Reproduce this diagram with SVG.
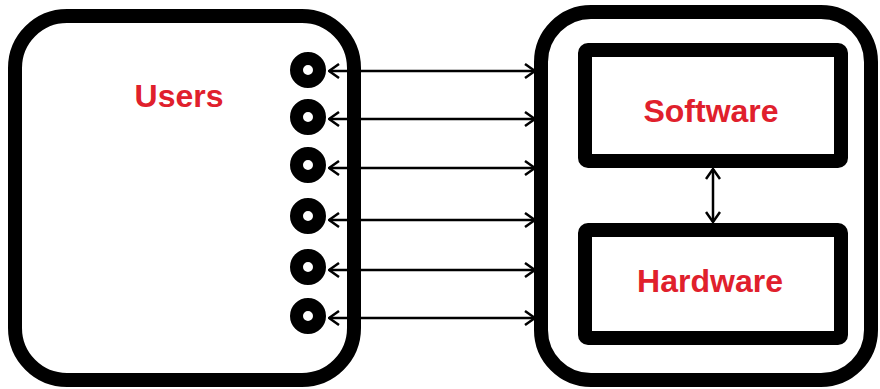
<svg xmlns="http://www.w3.org/2000/svg" width="880" height="389" viewBox="0 0 880 389">
<style>
.box{fill:#fff;stroke:#000;stroke-width:14}
.inner{fill:#fff;stroke:#000;stroke-width:14}
.port{fill:#fff;stroke:#000;stroke-width:13}
.lbl{font-family:"Liberation Sans",Arial,sans-serif;font-weight:bold;font-size:32px;fill:#e0202c;text-anchor:middle}
.conn{stroke:#000;stroke-width:2.5;fill:none;marker-start:url(#ah);marker-end:url(#ah)}
</style>
<defs>
<marker id="ah" viewBox="0 0 12 16" refX="11" refY="8" markerWidth="12" markerHeight="16" markerUnits="userSpaceOnUse" orient="auto-start-reverse">
<path d="M1,1 L11,8 L1,15" fill="none" stroke="#000" stroke-width="2.5"/>
</marker>
</defs>
<g id="users">
<rect class="box" x="15" y="16" width="339" height="364" rx="52"/>
<text class="lbl" x="179" y="107">Users</text>
<g id="ports">
<circle class="port" cx="308" cy="70" r="11.5"/>
<circle class="port" cx="308" cy="117" r="11.5"/>
<circle class="port" cx="308" cy="165" r="11.5"/>
<circle class="port" cx="308" cy="216" r="11.5"/>
<circle class="port" cx="308" cy="267" r="11.5"/>
<circle class="port" cx="308" cy="316" r="11.5"/>
</g>
</g>
<g id="system">
<rect class="box" x="541" y="12" width="330" height="368" rx="50"/>
</g>
<g id="software">
<rect class="inner" x="585" y="50" width="256" height="111" rx="3"/>
<text class="lbl" x="711" y="122">Software</text>
</g>
<g id="hardware">
<rect class="inner" x="585" y="230" width="256" height="108" rx="3"/>
<text class="lbl" x="710" y="292">Hardware</text>
</g>
<g id="connectors">
<line class="conn" x1="329" y1="71" x2="535" y2="71"/>
<line class="conn" x1="329" y1="119" x2="535" y2="119"/>
<line class="conn" x1="329" y1="168" x2="535" y2="168"/>
<line class="conn" x1="329" y1="220" x2="535" y2="220"/>
<line class="conn" x1="329" y1="270" x2="535" y2="270"/>
<line class="conn" x1="329" y1="318" x2="535" y2="318"/>
<line class="conn" x1="713" y1="169" x2="713" y2="222"/>
</g>
</svg>
